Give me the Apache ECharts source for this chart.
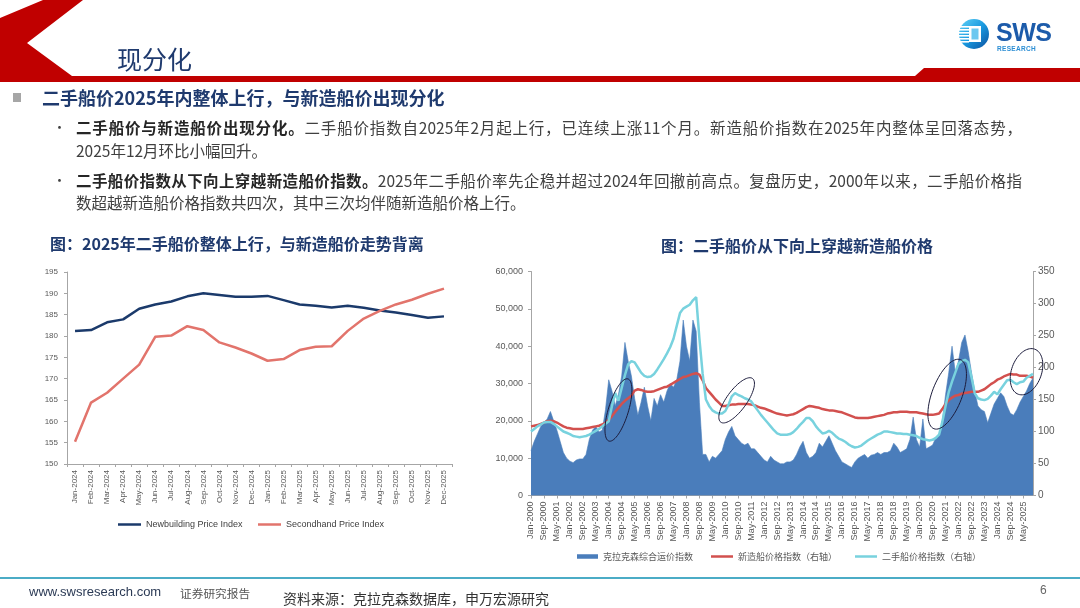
<!DOCTYPE html>
<html><head><meta charset="utf-8">
<script src="https://cdn.jsdelivr.net/npm/echarts/dist/echarts.min.js"></script>
<style>
body{margin:0;width:1080px;height:608px;overflow:hidden;background:#fff;font-family:"Noto Sans CJK SC","Microsoft YaHei",sans-serif;position:relative}
.abs{position:absolute;white-space:nowrap}
.ln{position:absolute;left:76px;font-size:15.5px;line-height:20px;color:#404040;white-space:nowrap}
.j{width:946px;text-align:justify;text-align-last:justify}
.ln b{color:#262626}
.dot{position:absolute;left:53px;font-size:13px;line-height:20px;color:#404040}
</style></head><body>
<div id="c" style="position:absolute;left:0;top:0;width:1080px;height:608px"></div>

<svg class="abs" style="left:0;top:0" width="1080" height="90">
<polygon points="43,0 83,0 27,43 72,76 915,76 924,68 1080,68 1080,82 0,82 0,18" fill="#C00000"/>
</svg>
<svg class="abs" style="left:956px;top:18px" width="36" height="34">
<defs><linearGradient id="lg" x1="0" y1="0" x2="1" y2="1"><stop offset="0" stop-color="#62d2f6"/><stop offset="0.5" stop-color="#1a9ae0"/><stop offset="1" stop-color="#0b4f9e"/></linearGradient></defs>
<circle cx="18" cy="16" r="15" fill="url(#lg)"/>
<g fill="#fff"><rect x="3" y="8" width="10" height="1.6"/><rect x="2" y="11" width="11" height="1.6"/><rect x="2" y="14" width="11" height="1.6"/><rect x="2" y="17" width="11" height="1.6"/><rect x="2" y="20" width="11" height="1.6"/><rect x="3" y="23" width="10" height="1.6"/></g>
<rect x="13" y="8" width="12" height="16" fill="#fff"/>
<rect x="15.5" y="10.5" width="7" height="11" fill="#6cc8f0"/>
</svg>
<div class="abs" style="left:996px;top:19px;font-family:'Liberation Sans',Arial,sans-serif;font-weight:bold;font-size:25px;line-height:26px;color:#1C5BAA;letter-spacing:-0.5px">SWS</div>
<div class="abs" style="left:997px;top:45px;font-family:'Liberation Sans',Arial,sans-serif;font-weight:bold;font-size:6.5px;line-height:8px;color:#2C8ED4;letter-spacing:0.3px">RESEARCH</div>

<div class="abs" style="left:117px;top:44px;font-size:25px;line-height:28px;color:#1F3A6E">现分化</div>

<div class="abs" style="left:13px;top:93px;width:8px;height:9px;background:#A6A6A6"></div>
<div class="abs" style="left:42px;top:86px;font-size:18px;line-height:22px;font-weight:bold;color:#1F3A6E">二手船价2025年内整体上行，与新造船价出现分化</div>

<div class="dot" style="top:117px">•</div>
<div class="ln j" style="top:117px"><b>二手船价与新造船价出现分化。</b>二手船价指数自2025年2月起上行，已连续上涨11个月。新造船价指数在2025年内整体呈回落态势，</div>
<div class="ln" style="top:140px">2025年12月环比小幅回升。</div>
<div class="dot" style="top:170px">•</div>
<div class="ln j" style="top:170px"><b>二手船价指数从下向上穿越新造船价指数。</b>2025年二手船价率先企稳并超过2024年回撤前高点。复盘历史，2000年以来，二手船价格指</div>
<div class="ln" style="top:192px">数超越新造船价格指数共四次，其中三次均伴随新造船价格上行。</div>

<div class="abs" style="left:50px;top:233px;font-size:16px;line-height:20px;font-weight:bold;color:#1F3A6E">图：2025年二手船价整体上行，与新造船价走势背离</div>
<div class="abs" style="left:661px;top:235px;font-size:16px;line-height:20px;font-weight:bold;color:#1F3A6E">图：二手船价从下向上穿越新造船价格</div>

<div class="abs" style="left:0;top:577px;width:1080px;height:2px;background:#4BACC6"></div>
<div class="abs" style="left:29px;top:584px;font-family:'Liberation Sans',Arial,sans-serif;font-size:13px;line-height:16px;color:#2B3A55">www.swsresearch.com</div>
<div class="abs" style="left:180px;top:585px;font-size:11.7px;line-height:15px;color:#555">证券研究报告</div>
<div class="abs" style="left:283px;top:589px;font-size:14px;line-height:18px;color:#333">资料来源：克拉克森数据库，申万宏源研究</div>
<div class="abs" style="left:1040px;top:583px;font-family:'Liberation Sans',Arial,sans-serif;font-size:12px;line-height:15px;color:#666">6</div>

<script>
// ---------- left chart data ----------
const leftCats = ['Jan-2024','Feb-2024','Mar-2024','Apr-2024','May-2024','Jun-2024','Jul-2024','Aug-2024','Sep-2024','Oct-2024','Nov-2024','Dec-2024',
  'Jan-2025','Feb-2025','Mar-2025','Apr-2025','May-2025','Jun-2025','Jul-2025','Aug-2025','Sep-2025','Oct-2025','Nov-2025','Dec-2025'];
const newbuildingIdx = [181.2,181.4,183.2,183.9,186.4,187.4,188.1,189.3,190.0,189.6,189.2,189.2,
  189.4,188.4,187.4,187.1,186.7,187.1,186.6,186.0,185.5,184.9,184.3,184.6];
const secondhandIdx = [155.2,164.4,166.7,170.0,173.3,179.8,180.1,182.3,181.4,178.5,177.3,175.9,
  174.2,174.6,176.7,177.5,177.6,181.2,184.1,185.9,187.4,188.5,189.9,191.1];

// ---------- right chart data (bimonthly) ----------
const rightMonths = ['Jan','Mar','May','Jul','Sep','Nov'];
const rightYears = [2000,2001,2002,2003,2004,2005,2006,2007,2008,2009,2010,2011,2012,2013,2014,2015,2016,2017,2018,2019,2020,2021,2022,2023,2024,2025];
const rightCats = [];
rightYears.forEach(y => rightMonths.forEach(m => rightCats.push(m + '-' + y)));
const clarkSea = [
 12000,14500,16500,18500,19500,20500,
 22500,20000,17500,14500,11500,10000,
 9200,8800,9500,9800,9800,11000,
 15000,17500,18500,17000,17500,23000,
 31000,28000,24000,27000,32000,41000,
 36000,32000,26000,21500,25000,29000,
 24000,20000,26000,24000,27000,25000,
 28000,30000,29000,31000,36000,47000,
 40000,36000,47000,44000,25000,11000,
 11000,9000,10500,10000,11000,12000,
 15000,17000,18500,16000,15000,14000,
 13500,14000,12500,12500,11500,10500,
 9500,9000,10500,9500,9000,8500,
 8500,9000,9000,9500,11000,13000,
 14500,11500,10000,10500,11500,14000,
 13000,14500,16000,14000,12000,10500,
 9000,8500,8000,7500,9000,10000,
 10500,11000,10000,10800,11000,11500,
 11000,11500,11500,12000,14000,13000,
 11500,12000,12500,15000,21000,15000,
 13000,20500,12500,13000,13500,15500,
 16000,20000,27000,33000,40000,33000,
 36000,41000,43000,38500,33000,28000,
 24000,23000,22500,19500,22000,24500,
 26000,27500,26500,24000,22000,21500,
 23000,25000,26500,28000,30000,31500];
const newbuildRight = [
 108,109,110,112,114,116,
 117,116,114,111,108,106,
 105,104,104,104,104,105,
 106,107,108,109,111,114,
 118,124,131,137,143,148,
 152,156,164,166,165,163,
 162,162,163,165,167,169,
 170,173,176,179,182,185,
 186,188,190,191,189,180,
 168,162,156,150,145,140,
 140,141,142,142,143,143,
 143,143,142,141,139,137,
 136,134,132,130,128,127,
 126,125,126,127,129,132,
 135,138,140,139,138,137,
 135,134,133,133,132,131,
 130,128,126,124,122,121,
 121,121,121,122,123,124,
 125,126,128,129,130,130,
 131,131,131,130,130,130,
 129,128,127,126,126,127,
 128,135,143,149,153,156,
 157,159,160,161,162,162,
 162,164,166,170,174,177,
 181,183,186,188,190,189,
 189,187,187,187,186,184];
const secondhandRight = [
 100,104,108,111,114,115,
 115,112,108,104,100,98,
 96,93,92,91,92,93,
 95,98,101,104,108,112,
 116,140,160,148,168,188,
 205,210,208,200,192,187,
 185,186,190,197,205,213,
 222,232,245,265,285,292,
 295,298,305,310,245,190,
 150,140,133,130,128,128,
 132,142,155,160,157,155,
 152,150,147,140,133,126,
 120,114,108,102,97,95,
 95,95,96,99,104,110,
 115,121,121,116,108,102,
 97,98,101,98,93,89,
 87,84,80,77,75,76,
 78,82,86,89,92,95,
 97,100,100,99,98,97,
 97,96,96,95,94,93,
 90,88,87,86,87,90,
 95,115,140,162,178,192,
 206,210,212,208,185,160,
 152,150,149,151,156,162,
 158,166,173,180,181,177,
 174,177,178,184,187,190];

const LATIN = "'Liberation Sans', Arial, sans-serif";
const CJK = "'Noto Sans CJK SC', sans-serif";
const axLine = {show:true, lineStyle:{color:'#A6A6A6', width:1}};
const axTick = {show:true, length:3, inside:false, lineStyle:{color:'#A6A6A6'}};
const thousands = v => String(v).replace(/\B(?=(\d{3})+(?!\d))/g, ',');

const chart = echarts.init(document.getElementById('c'));
chart.setOption({
  animation:false,
  backgroundColor:'transparent',
  grid:[{left:67, top:272, width:385, height:192},{left:531, top:271.5, width:502, height:224}],
  xAxis:[
    {type:'category', gridIndex:0, data:leftCats, boundaryGap:true, axisLine:axLine, axisTick:axTick,
     axisLabel:{rotate:90, interval:0, fontSize:8, margin:6, color:'#595959', fontFamily:LATIN}},
    {type:'category', gridIndex:1, data:rightCats, boundaryGap:false, axisLine:axLine,
     axisTick:Object.assign({}, axTick, {interval:3}),
     axisLabel:{rotate:90, interval:3, fontSize:9, margin:6, color:'#595959', fontFamily:LATIN}}
  ],
  yAxis:[
    {type:'value', gridIndex:0, min:150, max:195, interval:5, axisLine:axLine, axisTick:axTick, splitLine:{show:false},
     axisLabel:{fontSize:8, margin:9, color:'#595959', fontFamily:LATIN}},
    {type:'value', gridIndex:1, min:0, max:60000, interval:10000, position:'left', axisLine:axLine, axisTick:axTick, splitLine:{show:false},
     axisLabel:{fontSize:9, margin:8, color:'#595959', fontFamily:LATIN, formatter:thousands}},
    {type:'value', gridIndex:1, min:0, max:350, interval:50, position:'right', axisLine:axLine, axisTick:axTick, splitLine:{show:false},
     axisLabel:{fontSize:10, margin:5, color:'#595959', fontFamily:LATIN}}
  ],
  legend:[
    {left:118, top:520, padding:0, itemWidth:23, itemHeight:2.5, data:[{name:'Newbuilding Price Index', icon:'rect'}],
     textStyle:{fontSize:9, color:'#404040', fontFamily:LATIN}},
    {left:258, top:520, padding:0, itemWidth:23, itemHeight:2.5, data:[{name:'Secondhand Price Index', icon:'rect'}],
     textStyle:{fontSize:9, color:'#404040', fontFamily:LATIN}},
    {left:577, top:552, padding:0, itemWidth:21, itemHeight:4.5, data:[{name:'克拉克森综合运价指数', icon:'rect'}],
     textStyle:{fontSize:9, color:'#595959', fontFamily:CJK}},
    {left:711, top:552, padding:0, itemWidth:22, itemHeight:2.5, data:[{name:'新造船价格指数（右轴）', icon:'rect'}],
     textStyle:{fontSize:9, color:'#595959', fontFamily:CJK}},
    {left:855, top:552, padding:0, itemWidth:22, itemHeight:2.5, data:[{name:'二手船价格指数（右轴）', icon:'rect'}],
     textStyle:{fontSize:9, color:'#595959', fontFamily:CJK}}
  ],
  series:[
    {name:'Newbuilding Price Index', type:'line', xAxisIndex:0, yAxisIndex:0, data:newbuildingIdx,
     symbol:'none', color:'#1B3A6B', lineStyle:{width:2.5, color:'#1B3A6B', join:'round'}},
    {name:'Secondhand Price Index', type:'line', xAxisIndex:0, yAxisIndex:0, data:secondhandIdx,
     symbol:'none', color:'#E2746C', lineStyle:{width:2.5, color:'#E2746C', join:'round'}},
    {name:'克拉克森综合运价指数', type:'line', xAxisIndex:1, yAxisIndex:1, data:clarkSea,
     symbol:'none', color:'#4A7DBB', lineStyle:{width:0.6, color:'#4A7DBB'}, areaStyle:{color:'#4A7DBB', opacity:1}},
    {name:'新造船价格指数（右轴）', type:'line', xAxisIndex:1, yAxisIndex:2, data:newbuildRight,
     symbol:'none', color:'#D2504E', lineStyle:{width:2.5, color:'#D2504E'}},
    {name:'二手船价格指数（右轴）', type:'line', xAxisIndex:1, yAxisIndex:2, data:secondhandRight,
     symbol:'none', color:'#78D2DE', lineStyle:{width:2.5, color:'#78D2DE'}}
  ]
});

// annotation ellipses, anchored to data coordinates of the right chart
function ellipse(idxA, idxB, val, a, b, deg){
  const f = {xAxisIndex:1, yAxisIndex:2};
  const p1 = chart.convertToPixel(f, [idxA, val]);
  const p2 = chart.convertToPixel(f, [idxB, val]);
  const cx = (p1[0] + p2[0]) / 2, cy = p1[1];
  const th = deg * Math.PI / 180, pts = [];
  for (let i = 0; i < 72; i++){
    const t = i / 72 * Math.PI * 2;
    const x = b * Math.cos(t), y = a * Math.sin(t);
    pts.push([cx + x * Math.cos(th) - y * Math.sin(th), cy + x * Math.sin(th) + y * Math.cos(th)]);
  }
  return {type:'polygon', shape:{points:pts}, style:{fill:'none', stroke:'#1C1C3C', lineWidth:1}, z:100};
}
chart.setOption({graphic:[
  ellipse(27, 27, 133.6, 32.5, 10, 17),
  ellipse(63, 64, 148.7, 27, 10, 36),
  ellipse(128, 129, 158.3, 37, 15, 21),
  ellipse(153, 153, 193.4, 24, 15, 20)
]});
</script>
</body></html>
